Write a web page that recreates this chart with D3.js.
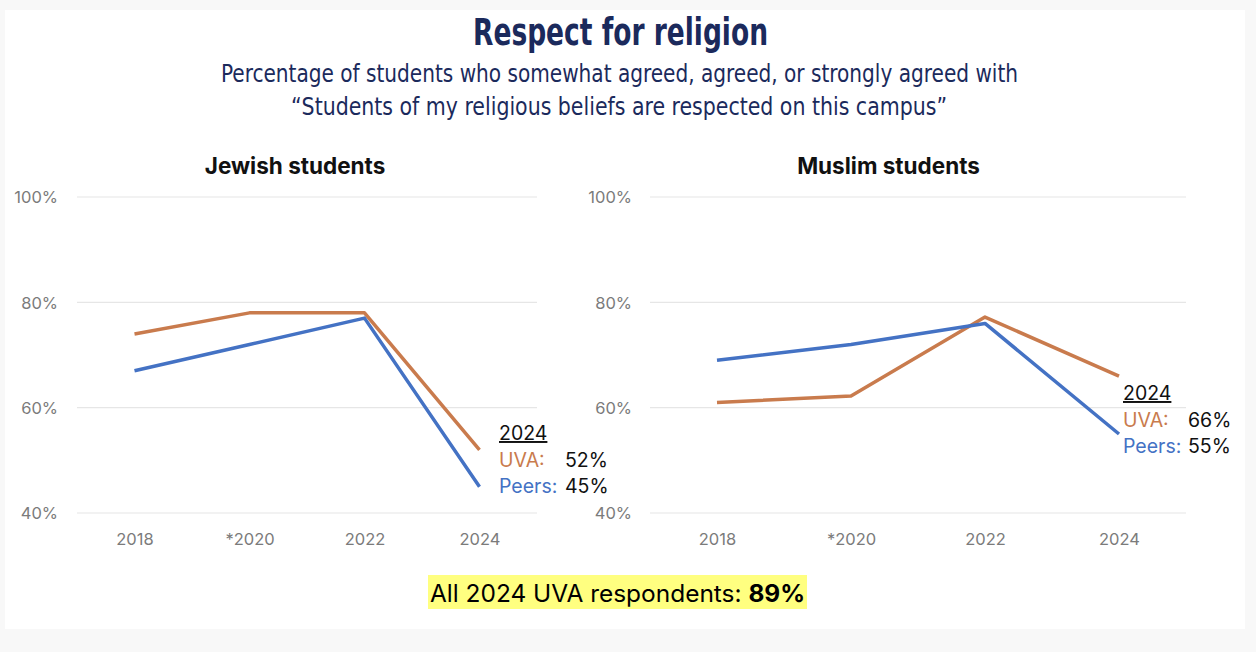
<!DOCTYPE html>
<html>
<head>
<meta charset="utf-8">
<script src="https://cdn.jsdelivr.net/npm/d3@7/dist/d3.min.js"></script>
<style>
  html, body { margin: 0; padding: 0; background: #f8f8f8; }
  svg { display: block; }
</style>
</head>
<body>
<svg id="chart" width="1256" height="652"></svg>
<script>
// ---- Data ----
const years = ["2018", "*2020", "2022", "2024"];
const jewishUVA   = [74, 78, 78, 52];
const jewishPeers = [67, 72, 77, 45];
const muslimUVA   = [61, 62.2, 77.2, 66];
const muslimPeers = [69, 72, 76, 55];
const yTicks = [40, 60, 80, 100];
const panelTitles = ["Jewish students", "Muslim students"];
const allRespondents = 89;

// ---- Styles ----
const ORANGE = "#C97B4D";
const BLUE = "#4472C4";
const NAVY = "#1B2A5C";
const GRAY = "#7b7b7b";
const FONT = "Inter, Roboto, 'Noto Sans', sans-serif";
const COND = "'Liberation Sans Narrow', 'DejaVu Sans Condensed', 'Roboto', sans-serif";

const svg = d3.select("#chart");

// card
svg.append("rect").attr("x", 5).attr("y", 10).attr("width", 1240).attr("height", 619).attr("fill", "#ffffff");

// title
svg.append("text").attr("x", 620.5).attr("y", 45).attr("text-anchor", "middle")
  .attr("font-family", COND).attr("font-weight", "bold").attr("font-size", 37)
  .attr("fill", NAVY).attr("textLength", 295).attr("lengthAdjust", "spacingAndGlyphs")
  .text("Respect for religion");
svg.append("text").attr("x", 619.5).attr("y", 82).attr("text-anchor", "middle")
  .attr("font-family", COND).attr("font-size", 25)
  .attr("fill", NAVY).attr("textLength", 797).attr("lengthAdjust", "spacingAndGlyphs")
  .text("Percentage of students who somewhat agreed, agreed, or strongly agreed with");
svg.append("text").attr("x", 619).attr("y", 115).attr("text-anchor", "middle")
  .attr("font-family", COND).attr("font-size", 25)
  .attr("fill", NAVY).attr("textLength", 656).attr("lengthAdjust", "spacingAndGlyphs")
  .text("\u201CStudents of my religious beliefs are respected on this campus\u201D");

const y = d3.scaleLinear().domain([40, 100]).range([513, 197]);

const panels = [
  { title: panelTitles[0], uva: jewishUVA, peers: jewishPeers, x0: 77, x1: 537, titleX: 295, labelX: 58, annX: 499, annVal: 565, annY: 440 },
  { title: panelTitles[1], uva: muslimUVA, peers: muslimPeers, x0: 650, x1: 1186, titleX: 888.5, labelX: 632, annX: 1123, annVal: 1188, annY: 400 }
];

panels.forEach(p => {
  const g = svg.append("g");
  const x = d3.scalePoint().domain(years).range([p.x0, p.x1]).padding(0.5);

  // gridlines
  g.selectAll("line.grid").data(yTicks).join("line")
    .attr("x1", p.x0).attr("x2", p.x1)
    .attr("y1", d => y(d)).attr("y2", d => y(d))
    .attr("stroke", "#e6e6e6").attr("stroke-width", 1.2);

  // y axis labels
  const yAxis = d3.axisLeft(y).tickValues(yTicks).tickFormat(d => d + "%").tickSize(0).tickPadding(0);
  const ya = g.append("g").attr("transform", `translate(${p.labelX},0)`).call(yAxis);
  ya.select(".domain").remove();
  ya.selectAll("text").attr("font-family", FONT).attr("font-size", 16.5).attr("fill", GRAY).attr("dy", "0.35em");

  // x axis labels
  const xAxis = d3.axisBottom(x).tickSize(0).tickPadding(0);
  const xa = g.append("g").attr("transform", `translate(0,533)`).call(xAxis);
  xa.select(".domain").remove();
  xa.selectAll("text").attr("font-family", FONT).attr("font-size", 16.5).attr("fill", GRAY).attr("dy", "0.35em").attr("y", 6);

  // title
  g.append("text").attr("x", p.titleX).attr("y", 174).attr("text-anchor", "middle")
    .attr("font-family", FONT).attr("font-weight", "bold").attr("font-size", 22.5)
    .attr("fill", "#111").text(p.title);

  // lines
  const line = d3.line().x((d, i) => x(years[i])).y(d => y(d));
  g.append("path").datum(p.uva).attr("d", line).attr("fill", "none")
    .attr("stroke", ORANGE).attr("stroke-width", 3.5).attr("stroke-linejoin", "round");
  g.append("path").datum(p.peers).attr("d", line).attr("fill", "none")
    .attr("stroke", BLUE).attr("stroke-width", 3.5).attr("stroke-linejoin", "round");

  // annotation
  const a = g.append("g").attr("font-family", FONT).attr("font-size", 19.5);
  a.append("text").attr("x", p.annX).attr("y", p.annY).attr("fill", "#111")
    .attr("text-decoration", "underline").text(years[3]);
  a.append("text").attr("x", p.annX).attr("y", p.annY + 27).attr("fill", ORANGE).text("UVA:");
  a.append("text").attr("x", p.annVal).attr("y", p.annY + 27).attr("fill", "#111").text(d3.format(".0f")(p.uva[3]) + "%");
  a.append("text").attr("x", p.annX).attr("y", p.annY + 53).attr("fill", BLUE).text("Peers:");
  a.append("text").attr("x", p.annVal).attr("y", p.annY + 53).attr("fill", "#111").text(d3.format(".0f")(p.peers[3]) + "%");
});

// bottom highlight
svg.append("rect").attr("x", 428).attr("y", 575).attr("width", 379).attr("height", 34).attr("fill", "#FFFF80");
const bt = svg.append("text").attr("x", 430).attr("y", 602)
  .attr("font-family", FONT).attr("font-size", 24).attr("fill", "#000")
  .attr("textLength", 375).attr("lengthAdjust", "spacingAndGlyphs");
bt.append("tspan").text("All 2024 UVA respondents: ");
bt.append("tspan").attr("font-weight", "bold").text(allRespondents + "%");
</script>
</body>
</html>
